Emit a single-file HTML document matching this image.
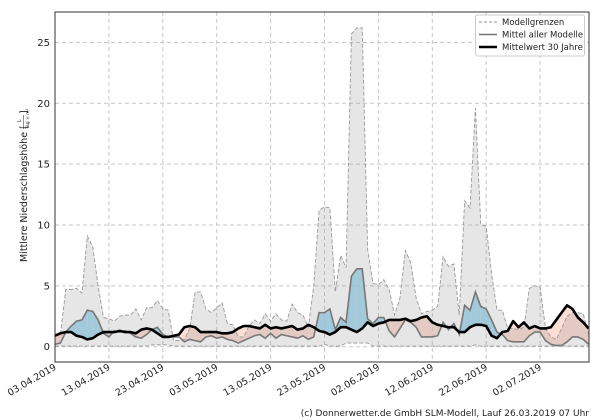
<!DOCTYPE html>
<html><head><meta charset="utf-8"><style>
body{margin:0;background:#fff;}
svg{display:block;font-family:"DejaVu Sans","Liberation Sans",sans-serif;}
</style></head><body>
<svg id="s" width="600" height="420" xmlns="http://www.w3.org/2000/svg"></svg>
<script>
const mx=[1.0,1.0,4.7,4.7,4.8,4.4,9.1,8.2,5,2.4,2.3,2.1,2.5,2.6,2.6,3.1,2.2,3.2,3.2,3.8,3.1,3.0,0.5,0.5,0.6,1.5,4.5,4.5,3.1,2.8,3.2,3.6,1.9,1.8,0.8,0.8,1.7,2.2,1.9,2.7,2.1,2.7,2.2,2.1,3.5,2.8,2.6,1.6,5,11.2,11.5,11.4,4.5,7.5,6.5,25.7,26.2,26.2,8,5.2,5.1,5.5,4.7,2.6,4,7.9,6.9,4,2.7,2.9,3,3.3,7.4,6.6,6.8,2.6,12,11.4,19.6,10,9.9,6,3,3,1.5,1.5,1.4,1.6,4.8,5,4.9,1.5,0.8,0.6,1.5,2.5,2.8,2.8,2.7,1.0];
const mn=[0.2,0.3,1.2,1.7,2.1,2.2,3.0,2.9,2.2,1.1,0.8,1.3,1.2,1.3,1.1,0.8,0.7,1.0,1.4,1.6,1.0,0.8,0.8,0.8,0.4,0.6,0.5,0.4,0.8,0.9,0.7,0.8,0.6,0.5,0.3,0.5,0.7,0.9,1.0,0.7,1.1,0.7,1.0,0.9,0.8,0.7,0.9,0.6,0.8,2.8,2.8,3.1,1.4,2.4,2.0,5.8,6.4,6.4,2.3,1.9,2.4,2.4,1.3,0.8,1.5,2.2,2.0,1.6,0.8,0.8,0.8,0.9,2.0,1.4,1.9,1.0,3.4,3.0,4.5,3.3,3.1,2.2,1.2,1.0,0.5,0.4,0.4,0.4,0.9,1.2,1.2,0.5,0.2,0.1,0.1,0.4,0.8,0.8,0.6,0.2];
const m30=[0.9,1.1,1.2,1.2,0.9,0.8,0.6,0.7,1.0,1.2,1.2,1.2,1.3,1.2,1.2,1.1,1.4,1.5,1.4,1.1,0.8,0.8,0.9,1.0,1.6,1.7,1.6,1.2,1.2,1.2,1.2,1.1,1.1,1.2,1.5,1.7,1.7,1.6,1.5,1.8,1.5,1.6,1.5,1.6,1.7,1.4,1.5,1.8,1.6,1.3,1.2,1.0,1.2,1.6,1.6,1.4,1.2,1.5,2.0,1.7,1.9,2.0,2.2,2.2,2.2,2.3,2.1,2.2,2.4,2.5,2.0,1.8,1.7,1.6,1.6,1.2,1.2,1.6,1.8,1.8,1.7,0.9,0.7,1.2,1.3,2.1,1.6,2.0,1.5,1.7,1.5,1.5,1.6,2.2,2.8,3.4,3.1,2.4,2.0,1.5];
const N=100;
const mi=[];for(let i=0;i<N;i++){let v=0.05;if(i>=18&&i<=21)v=0.15;if(i>=54&&i<=58)v=0.3;if(i==50)v=0.2;if(i==78)v=0.15;mi.push(v);}
const X=d=>55+5.39*d, Y=v=>346.7-12.17*v;
let h='';
const ticks=['03.04.2019','13.04.2019','23.04.2019','03.05.2019','13.05.2019','23.05.2019','02.06.2019','12.06.2019','22.06.2019','02.07.2019'];
for(let k=0;k<=25;k+=5){h+=`<line x1="55" x2="589" y1="${Y(k)}" y2="${Y(k)}" stroke="#c8c8c8" stroke-dasharray="4,3"/>`;
h+=`<text x="50" y="${Y(k)+3.5}" font-size="10" text-anchor="end" fill="#222">${k}</text>`;}
ticks.forEach((t,i)=>{const x=X(i*10);h+=`<line x1="${x}" x2="${x}" y1="12" y2="362" stroke="#c8c8c8" stroke-dasharray="4,3"/>`;
h+=`<text transform="translate(${x+2},${369}) rotate(-30)" font-size="9.5" text-anchor="end" fill="#222">${t}</text>`;});
for(let i=0;i<N-1;i++){const a=mn[i]-m30[i],b=mn[i+1]-m30[i+1];
 const col=s=>s>0?'rgba(150,210,238,0.8)':'rgba(250,200,185,0.6)';
 if(a*b>=0){h+=`<polygon points="${X(i)},${Y(mn[i])} ${X(i+1)},${Y(mn[i+1])} ${X(i+1)},${Y(m30[i+1])} ${X(i)},${Y(m30[i])}" fill="${col(a+b)}"/>`;}
 else{const t=a/(a-b),xc=X(i+t),yc=Y(mn[i]+t*(mn[i+1]-mn[i]));
 h+=`<polygon points="${X(i)},${Y(mn[i])} ${xc},${yc} ${X(i)},${Y(m30[i])}" fill="${col(a)}"/>`;
 h+=`<polygon points="${xc},${yc} ${X(i+1)},${Y(mn[i+1])} ${X(i+1)},${Y(m30[i+1])}" fill="${col(b)}"/>`;}}
let up=[],lo=[];for(let i=0;i<N;i++){up.push(X(i)+','+Y(mx[i]));lo.push(X(i)+','+Y(mi[i]));}
h+=`<polygon points="${up.join(' ')} ${lo.slice().reverse().join(' ')}" fill="rgba(128,128,128,0.2)"/>`;
h+=`<polyline points="${up.join(' ')}" fill="none" stroke="#999" stroke-width="0.9" stroke-dasharray="4,2"/>`;
h+=`<polyline points="${lo.join(' ')}" fill="none" stroke="#999" stroke-width="0.9" stroke-dasharray="4,2"/>`;
h+=`<polyline points="${mn.map((v,i)=>X(i)+','+Y(v)).join(' ')}" fill="none" stroke="#777" stroke-width="1.6"/>`;
h+=`<polyline points="${m30.map((v,i)=>X(i)+','+Y(v)).join(' ')}" fill="none" stroke="#000" stroke-width="2.6" stroke-linejoin="round"/>`;
h+=`<rect x="55" y="12" width="534" height="350" fill="none" stroke="#333" stroke-width="1"/>`;
h+=`<rect x="475.5" y="15" width="109" height="41" fill="#fff" fill-opacity="0.85" stroke="#ccc" rx="2"/>`;
h+=`<line x1="479" x2="497" y1="22" y2="22" stroke="#999" stroke-dasharray="3,2"/>`;
h+=`<line x1="479" x2="497" y1="34.5" y2="34.5" stroke="#777" stroke-width="1.6"/>`;
h+=`<line x1="479" x2="497" y1="47" y2="47" stroke="#000" stroke-width="2.6"/>`;
h+=`<text x="502" y="25" font-size="8.5" fill="#222">Modellgrenzen</text>`;
h+=`<text x="502" y="37.5" font-size="8.5" fill="#222">Mittel aller Modelle</text>`;
h+=`<text x="502" y="50" font-size="8.5" fill="#222">Mittelwert 30 Jahre</text>`;
h+=`<g transform="translate(27,262) rotate(-90)"><text x="0" y="0" font-size="9.5" fill="#222">Mittlere Niederschlagshöhe [</text><text x="140" y="-6" font-size="5" fill="#222">L</text><line x1="133" x2="147" y1="-3.5" y2="-3.5" stroke="#222" stroke-width="0.5"/><text x="133" y="2" font-size="4.5" fill="#222">Tag × m²</text><text x="148" y="0" font-size="9.5" fill="#222">]</text></g>`;
h+=`<text x="589" y="416" font-size="9" text-anchor="end" fill="#222">(c) Donnerwetter.de GmbH SLM-Modell, Lauf 26.03.2019 07 Uhr</text>`;
document.getElementById('s').innerHTML=h;
</script>
</body></html>
